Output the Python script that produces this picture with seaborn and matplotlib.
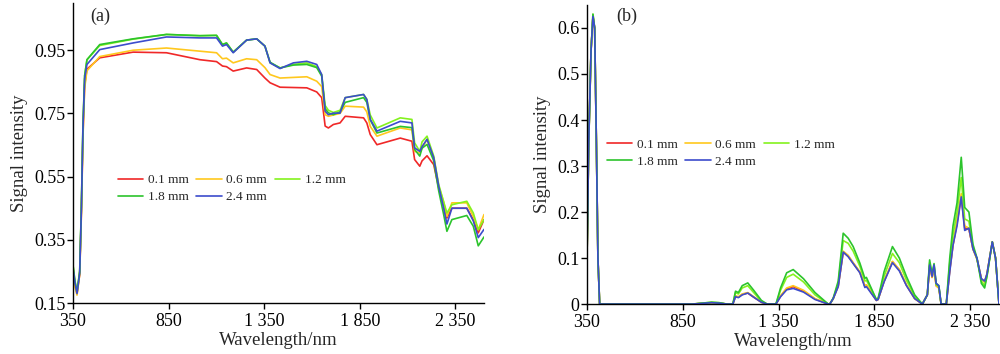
import matplotlib
matplotlib.use('Agg')
import matplotlib.pyplot as plt
import pandas as pd
import seaborn as sns

# thickness labels and line colours
labels = ['0.1 mm', '0.6 mm', '1.2 mm', '1.8 mm', '2.4 mm']
colors = ['#f02828', '#ffc81e', '#84f21e', '#2cc42c', '#3c4ccc']

# (a) raw signal intensity
wl_a = [350, 360, 371, 385, 394, 402, 411, 423, 490, 664, 839, 1014, 1101, 1132, 1153, 1188,
        1258, 1311, 1354, 1381, 1433, 1503, 1573, 1625, 1651, 1669, 1686, 1712, 1747, 1774,
        1870, 1887, 1905, 1940, 2062, 2123, 2137, 2164, 2176, 2202, 2237, 2263, 2289, 2306,
        2332, 2410, 2444, 2470, 2500]
a_01 = [0.25, 0.21, 0.18, 0.24, 0.44, 0.68, 0.84, 0.89, 0.926, 0.944, 0.942, 0.92, 0.914, 0.9,
        0.898, 0.884, 0.894, 0.889, 0.862, 0.847, 0.833, 0.832, 0.831, 0.818, 0.80, 0.71, 0.704,
        0.715, 0.72, 0.741, 0.736, 0.72, 0.683, 0.651, 0.672, 0.662, 0.604, 0.583, 0.60, 0.616,
        0.588, 0.514, 0.46, 0.419, 0.45, 0.45, 0.414, 0.372, 0.414]
a_06 = [0.24, 0.20, 0.175, 0.24, 0.43, 0.67, 0.83, 0.885, 0.93, 0.95, 0.957, 0.947, 0.942, 0.923,
        0.925, 0.91, 0.923, 0.92, 0.895, 0.873, 0.862, 0.864, 0.866, 0.852, 0.835, 0.746, 0.741,
        0.745, 0.75, 0.773, 0.77, 0.755, 0.709, 0.678, 0.704, 0.698, 0.63, 0.625, 0.64, 0.668,
        0.61, 0.52, 0.47, 0.424, 0.467, 0.467, 0.424, 0.382, 0.43]
a_12 = [0.27, 0.22, 0.185, 0.25, 0.46, 0.71, 0.87, 0.92, 0.965, 0.985, 1.0, 0.996, 0.997, 0.968,
        0.973, 0.944, 0.982, 0.986, 0.963, 0.91, 0.894, 0.905, 0.91, 0.898, 0.873, 0.775, 0.76,
        0.753, 0.76, 0.80, 0.81, 0.795, 0.745, 0.704, 0.736, 0.731, 0.657, 0.63, 0.66, 0.678,
        0.615, 0.525, 0.47, 0.435, 0.461, 0.472, 0.435, 0.382, 0.414]
a_18 = [0.27, 0.22, 0.185, 0.25, 0.46, 0.71, 0.87, 0.92, 0.968, 0.986, 1.0, 0.996, 0.997, 0.968,
        0.973, 0.944, 0.982, 0.986, 0.963, 0.912, 0.894, 0.903, 0.905, 0.895, 0.868, 0.765, 0.752,
        0.746, 0.755, 0.785, 0.80, 0.785, 0.73, 0.688, 0.709, 0.705, 0.636, 0.615, 0.64, 0.652,
        0.60, 0.505, 0.43, 0.377, 0.414, 0.427, 0.393, 0.331, 0.359]
a_24 = [0.26, 0.215, 0.18, 0.245, 0.45, 0.70, 0.86, 0.905, 0.952, 0.973, 0.992, 0.989, 0.989, 0.963,
        0.968, 0.942, 0.982, 0.986, 0.963, 0.91, 0.892, 0.91, 0.915, 0.905, 0.873, 0.757, 0.746,
        0.751, 0.751, 0.80, 0.81, 0.794, 0.731, 0.694, 0.725, 0.72, 0.641, 0.63, 0.645, 0.668,
        0.61, 0.52, 0.45, 0.40, 0.45, 0.45, 0.41, 0.357, 0.383]

# (b) processed signal
wl_b = [350, 359, 371, 381, 390, 399, 407, 416, 900, 1000, 1040, 1080, 1111, 1125, 1140, 1160,
        1189, 1220, 1260, 1290, 1336, 1360, 1392, 1426, 1480, 1540, 1609, 1617, 1635, 1661, 1687,
        1713, 1739, 1774, 1800, 1808, 1860, 1869, 1900, 1944, 1980, 2017, 2060, 2100, 2126, 2138,
        2151, 2161, 2172, 2186, 2198, 2225, 2243, 2260, 2281, 2303, 2321, 2343, 2364, 2385, 2408,
        2425, 2437, 2465, 2482, 2500]
b_01 = [0.10, 0.35, 0.55, 0.625, 0.60, 0.35, 0.10, 0.0, 0.0, 0.003, 0.002, 0.0, 0.0, 0.017, 0.015,
        0.021, 0.024, 0.015, 0.004, 0.0, 0.0, 0.017, 0.033, 0.038, 0.028, 0.011, 0.0, 0.0, 0.012,
        0.039, 0.113, 0.104, 0.089, 0.069, 0.039, 0.041, 0.008, 0.01, 0.049, 0.092, 0.074, 0.041,
        0.012, 0.0, 0.02, 0.082, 0.058, 0.078, 0.04, 0.035, 0.0, 0.0, 0.073, 0.128, 0.176, 0.235,
        0.165, 0.163, 0.12, 0.098, 0.055, 0.048, 0.065, 0.135, 0.1, 0.0]
b_06 = [0.10, 0.35, 0.55, 0.625, 0.60, 0.35, 0.10, 0.0, 0.0, 0.003, 0.002, 0.0, 0.0, 0.018, 0.016,
        0.022, 0.025, 0.016, 0.004, 0.0, 0.0, 0.018, 0.035, 0.04, 0.03, 0.012, 0.0, 0.0, 0.012,
        0.04, 0.115, 0.106, 0.09, 0.07, 0.04, 0.042, 0.008, 0.01, 0.05, 0.093, 0.075, 0.042, 0.012,
        0.0, 0.02, 0.082, 0.058, 0.078, 0.04, 0.035, 0.0, 0.0, 0.075, 0.13, 0.18, 0.24, 0.17, 0.165,
        0.12, 0.098, 0.055, 0.048, 0.065, 0.135, 0.1, 0.0]
b_12 = [0.10, 0.35, 0.55, 0.63, 0.60, 0.35, 0.10, 0.0, 0.0, 0.004, 0.003, 0.0, 0.0, 0.025, 0.022,
        0.035, 0.04, 0.025, 0.006, 0.0, 0.0, 0.03, 0.058, 0.065, 0.048, 0.02, 0.0, 0.0, 0.012,
        0.045, 0.138, 0.132, 0.115, 0.082, 0.05, 0.052, 0.01, 0.011, 0.06, 0.11, 0.09, 0.052,
        0.017, 0.0, 0.02, 0.09, 0.062, 0.085, 0.042, 0.038, 0.0, 0.0, 0.09, 0.15, 0.2, 0.275,
        0.185, 0.18, 0.125, 0.098, 0.05, 0.04, 0.06, 0.135, 0.1, 0.0]
b_18 = [0.10, 0.35, 0.55, 0.63, 0.60, 0.35, 0.10, 0.0, 0.0, 0.004, 0.003, 0.0, 0.0, 0.028, 0.025,
        0.04, 0.046, 0.03, 0.008, 0.0, 0.0, 0.035, 0.068, 0.075, 0.055, 0.025, 0.0, 0.0, 0.013,
        0.05, 0.154, 0.143, 0.125, 0.089, 0.056, 0.058, 0.01, 0.012, 0.07, 0.125, 0.1, 0.06, 0.02,
        0.0, 0.02, 0.096, 0.065, 0.088, 0.045, 0.04, 0.0, 0.0, 0.1, 0.17, 0.22, 0.319, 0.21, 0.2,
        0.13, 0.1, 0.045, 0.035, 0.06, 0.135, 0.1, 0.0]
b_24 = [0.10, 0.35, 0.55, 0.625, 0.60, 0.35, 0.10, 0.0, 0.0, 0.003, 0.002, 0.0, 0.0, 0.016, 0.014,
        0.02, 0.024, 0.015, 0.004, 0.0, 0.0, 0.016, 0.031, 0.034, 0.026, 0.01, 0.0, 0.0, 0.012,
        0.038, 0.113, 0.103, 0.088, 0.068, 0.036, 0.038, 0.008, 0.01, 0.048, 0.09, 0.072, 0.04,
        0.012, 0.0, 0.02, 0.085, 0.06, 0.085, 0.045, 0.04, 0.0, 0.0, 0.07, 0.128, 0.17, 0.233,
        0.16, 0.165, 0.12, 0.1, 0.055, 0.05, 0.065, 0.135, 0.1, 0.0]

xticks = [350, 850, 1350, 1850, 2350]
xtick_labels = ['350', '850', '1 350', '1 850', '2 350']
yticks_a = [0.15, 0.35, 0.55, 0.75, 0.95]
yticks_b = [0, 0.1, 0.2, 0.3, 0.4, 0.5, 0.6]
ytick_labels_b = ['0', '0.1', '0.2', '0.3', '0.4', '0.5', '0.6']


def long_form(wl, series):
    frames = []
    for lab, vals in zip(labels, series):
        frames.append(pd.DataFrame({'wl': wl, 'val': vals, 'thick': lab}))
    return pd.concat(frames, ignore_index=True)


sns.set_style('ticks')
plt.rcParams['font.family'] = ['Liberation Serif', 'DejaVu Serif']

fig = plt.figure(figsize=(10, 3.54), dpi=100)
ax1 = fig.add_axes([0.073, 0.144, 0.411, 0.848])
ax2 = fig.add_axes([0.587, 0.141, 0.412, 0.845])
palette = dict(zip(labels, colors))

df_a = long_form(wl_a, [a_01, a_06, a_12, a_18, a_24])
df_b = long_form(wl_b, [b_01, b_06, b_12, b_18, b_24])

for ax, df in [(ax1, df_a), (ax2, df_b)]:
    sns.lineplot(data=df, x='wl', y='val', hue='thick', hue_order=labels, palette=palette,
                 linewidth=1.2, estimator=None, ax=ax)

ax1.set_xlim(350, 2500)
ax1.set_ylim(0.15, 1.10)
ax1.set_yticks(yticks_a)
ax1.set_yticklabels([f'{v:.2f}' for v in yticks_a])
ax2.set_xlim(350, 2500)
ax2.set_ylim(0, 0.65)
ax2.set_yticks(yticks_b)
ax2.set_yticklabels(ytick_labels_b)

legend_pos = {ax1: (0.118, 0.508), ax2: (0.607, 0.608)}
for ax, tag, tx in [(ax1, '(a)', 0.100), (ax2, '(b)', 0.627)]:
    ax.set_xticks(xticks)
    ax.set_xticklabels(xtick_labels)
    ax.set_xlabel('Wavelength/nm', fontsize=13.5, labelpad=1.5)
    ax.set_ylabel('Signal intensity', fontsize=13.5, labelpad=4)
    ax.tick_params(axis='both', labelsize=13, direction='out', length=4, width=1, colors='black')
    ax.tick_params(axis='x', pad=3)
    ax.tick_params(axis='y', pad=1.5)
    for side in ['top', 'right']:
        ax.spines[side].set_visible(False)
    for side in ['left', 'bottom']:
        ax.spines[side].set_color('black')
        ax.spines[side].set_linewidth(1)
    fig.text(tx, 1 - 16 / 354, tag, fontsize=13, ha='center', va='center')
    h, l = ax.get_legend_handles_labels()
    order = [0, 3, 1, 4, 2]
    ax.get_legend().remove()
    fig.legend([h[i] for i in order], [l[i] for i in order], ncol=3, frameon=False,
               loc='upper left', bbox_to_anchor=legend_pos[ax], fontsize=9.5,
               handlelength=1.9, handletextpad=0.35, columnspacing=0.6,
               labelspacing=0.35, borderpad=0, borderaxespad=0)

fig.savefig('out.png', dpi=100)
